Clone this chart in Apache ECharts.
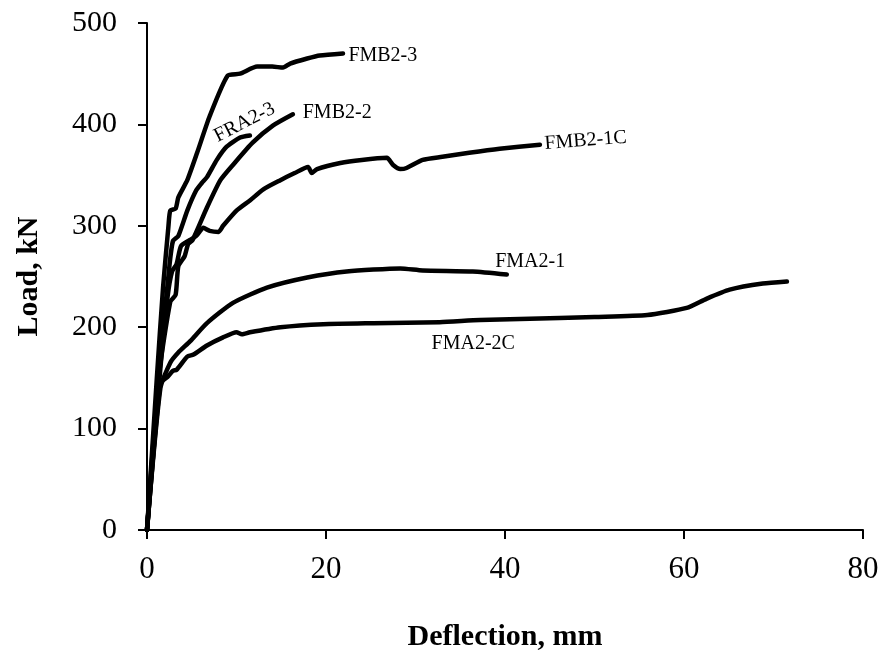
<!DOCTYPE html>
<html>
<head>
<meta charset="utf-8">
<script src="https://cdn.jsdelivr.net/npm/echarts@6/dist/echarts.min.js"></script>
<style>
  html, body { margin: 0; padding: 0; background: #fff; }
  #main { width: 882px; height: 657px; }
</style>
</head>
<body>
<div id="main"></div>
<script>
// load-deflection curves, [deflection mm, load kN]
var fmb23 = [[0,0],[1.1,150],[1.8,240],[2.4,300],[2.6,315],[3.2,317],[3.5,328],[4.5,345],[5.6,372],[7,408],[9,448],[10.4,450],[12.3,457],[14,457],[15.2,456],[16,460],[17.9,465],[19.3,468],[21.9,470]];
var fra23 = [[0,0],[1.3,150],[2.5,260],[2.9,285],[3.5,290],[4.5,315],[5.5,335],[6.1,342],[6.7,348],[7.8,365],[8.9,378],[10.4,387],[11.5,389]];
var fmb22 = [[0,0],[1.3,150],[2.6,225],[3.2,232],[3.5,260],[4.2,270],[4.6,282],[5.1,286],[6.7,318],[8.2,345],[9.6,360],[11.8,382],[14.1,399],[16.3,410]];
var fmb21c = [[0,0],[1.5,160],[2.3,230],[2.8,255],[3.3,262],[3.8,280],[4.8,286],[5.5,290],[6.3,298],[7,295],[8,294],[8.5,300],[10,315],[11.5,325],[13,336],[14.9,345],[16.5,352],[18,358],[18.4,352],[19,356],[21.6,362],[24,365],[26.8,367],[27.5,360],[28.3,356],[29,357],[30.8,365],[33,368],[36,372],[39.4,376],[43.9,380]];
var fma21 = [[0,0],[1.5,140],[2.6,165],[3.5,175],[4.8,186],[6.7,204],[9.6,224],[13.4,239],[17.9,249],[22.3,255],[28.3,258],[30.8,256],[36.4,255],[40.2,252]];
var fma22c = [[0,0],[1.5,145],[2.3,151],[2.9,157],[3.3,158],[4.5,171],[5.2,173],[6.7,182],[8.5,190],[10,195],[10.6,193],[11.5,195],[14.9,200],[19.7,203],[25.3,204],[32.7,205],[37.2,207],[46.1,209],[50,210],[55.9,212],[60.3,219],[62.5,228],[65.1,237],[68.8,243],[71.5,245]];

// curve labels: text, x, y, rotation (deg), align
var labels = [
  ['FMB2-3', 22.5, 468, 0, 'left'],
  ['FMB2-2', 17.4, 411, 0, 'left'],
  ['FRA2-3', 10.9, 402, 27, 'center'],
  ['FMB2-1C', 49.0, 384, 4.5, 'center'],
  ['FMA2-1', 38.9, 265, 0, 'left'],
  ['FMA2-2C', 31.8, 184, 0, 'left']
];

var font = '"Liberation Serif", "Times New Roman", serif';
var myChart = echarts.init(document.getElementById('main'));

function curve(name, data){
  return {
    name: name, type: 'line', data: data, showSymbol: false, symbol: 'none',
    smooth: 0.2, animation: false,
    lineStyle: { color: '#000', width: 4.5, cap: 'round', join: 'round' }
  };
}

var option = {
  animation: false,
  backgroundColor: '#fff',
  grid: { left: 147, right: 19, top: 23, bottom: 127, containLabel: false, outerBoundsMode: 'none' },
  xAxis: {
    type: 'value', min: 0, max: 80, interval: 20,
    name: 'Deflection, mm', nameLocation: 'middle', nameGap: 92,
    nameTextStyle: { fontFamily: font, fontSize: 30, fontWeight: 'bold', color: '#000' },
    axisLine: { lineStyle: { color: '#000', width: 2 } },
    axisTick: { inside: false, length: 9, lineStyle: { color: '#000', width: 2 } },
    axisLabel: { fontFamily: font, fontSize: 31, color: '#000', margin: 24 },
    splitLine: { show: false }
  },
  yAxis: {
    type: 'value', min: 0, max: 500, interval: 100,
    name: 'Load, kN', nameLocation: 'middle', nameGap: 103, nameRotate: 90,
    nameTextStyle: { fontFamily: font, fontSize: 30, fontWeight: 'bold', color: '#000' },
    axisLine: { lineStyle: { color: '#000', width: 2 } },
    axisTick: { inside: false, length: 9, lineStyle: { color: '#000', width: 2 } },
    axisLabel: { fontFamily: font, fontSize: 30, color: '#000', margin: 30 },
    splitLine: { show: false }
  },
  series: [
    curve('FMA2-2C', fma22c),
    curve('FMA2-1', fma21),
    curve('FMB2-1C', fmb21c),
    curve('FMB2-2', fmb22),
    curve('FRA2-3', fra23),
    curve('FMB2-3', fmb23)
  ]
};
myChart.setOption(option);

// place curve names at data positions
var texts = labels.map(function(l){
  var p = myChart.convertToPixel({ gridIndex: 0 }, [l[1], l[2]]);
  return {
    type: 'text', x: p[0], y: p[1], rotation: l[3] * Math.PI / 180,
    style: { text: l[0], font: '20px ' + font, fill: '#000', align: l[4], verticalAlign: 'middle' }
  };
});
myChart.setOption({ graphic: texts });
</script>
</body>
</html>
